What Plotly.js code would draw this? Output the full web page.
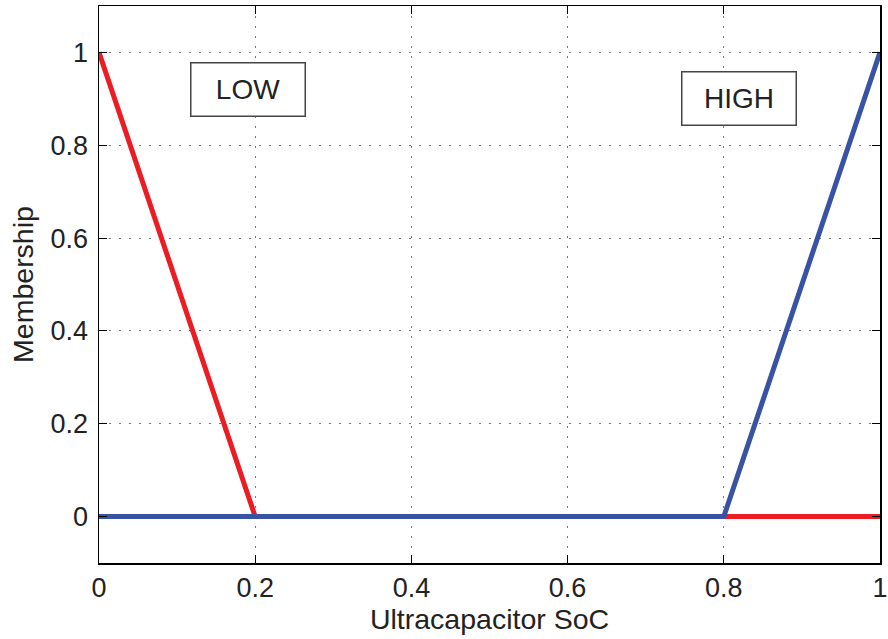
<!DOCTYPE html>
<html>
<head>
<meta charset="utf-8">
<script src="https://cdn.plot.ly/plotly-3.0.1.min.js"></script>
<style>
  html, body { margin: 0; padding: 0; background: #fff; }
  #chart { width: 888px; height: 639px; }
</style>
</head>
<body>
<div id="chart"></div>
<script>
// Membership functions for ultracapacitor state of charge
const socLow = [0, 0.2, 1];
const memLow = [1, 0, 0];
const socHigh = [0, 0.8, 1];
const memHigh = [0, 0, 1];

const tickVals = [0, 0.2, 0.4, 0.6, 0.8, 1];
const tickText = ['0', '0.2', '0.4', '0.6', '0.8', '1'];

const setNames = ['LOW', 'HIGH'];
const labelX = [0.191, 0.8195];
const labelY = [0.921, 0.9006];

const FONT = 'Liberation Sans, Arial, Helvetica, sans-serif';

const traces = [
  { x: socLow, y: memLow, mode: 'lines', name: setNames[0],
    line: { color: '#ec1c24', width: 5 }, hoverinfo: 'x+y' },
  { x: socHigh, y: memHigh, mode: 'lines', name: setNames[1],
    line: { color: '#3953a4', width: 5 }, hoverinfo: 'x+y' }
];

const axisCommon = {
  tickvals: tickVals,
  ticktext: tickText,
  ticks: 'inside',
  ticklen: 8,
  tickwidth: 1,
  tickcolor: '#000',
  showline: true,
  linecolor: '#000',
  linewidth: 1.5,
  mirror: 'ticks',
  showgrid: true,
  gridcolor: '#777',
  gridwidth: 1,
  griddash: '1.5px,8.5px',
  zeroline: false,
  tickfont: { family: FONT, size: 27, color: '#222' }
};

const layout = {
  width: 888,
  height: 639,
  margin: { l: 99, r: 8, t: 6, b: 76 },
  paper_bgcolor: '#fff',
  plot_bgcolor: '#fff',
  showlegend: false,
  xaxis: Object.assign({}, axisCommon, {
    range: [0, 1],
    ticklabelstandoff: 0,
    title: { text: 'Ultracapacitor SoC', font: { family: FONT, size: 28.5, color: '#222' }, standoff: 4 }
  }),
  yaxis: Object.assign({}, axisCommon, {
    range: [-0.1, 1.1],
    ticklabelstandoff: 4,
    title: { text: 'Membership', font: { family: FONT, size: 28.5, color: '#222' }, standoff: 8 }
  }),
  annotations: setNames.map((name, i) => ({
    x: labelX[i], y: labelY[i], xref: 'x', yref: 'y',
    text: name, showarrow: false,
    font: { family: FONT, size: 28, color: '#222' },
    width: 113, height: 52,
    align: 'center', valign: 'middle',
    bgcolor: '#fff', bordercolor: '#444', borderwidth: 1.5, borderpad: 0
  }))
};

Plotly.newPlot('chart', traces, layout, { displayModeBar: false, staticPlot: true });
</script>
</body>
</html>
